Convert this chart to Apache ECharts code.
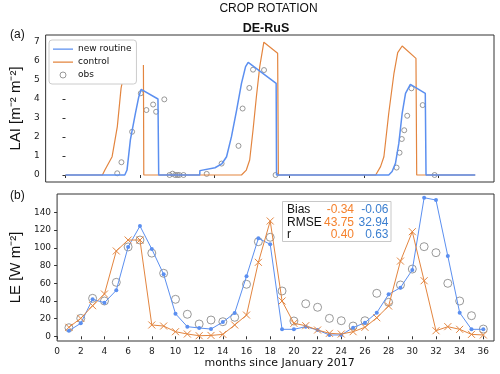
<!DOCTYPE html>
<html>
<head>
<meta charset="utf-8">
<script src="https://cdn.jsdelivr.net/npm/echarts@6/dist/echarts.min.js"></script>
<style>
  html, body { margin: 0; padding: 0; background: #fff; }
  #main { width: 500px; height: 374px; }
</style>
</head>
<body>
<div id="main"></div>
<script>
// (a) LAI, days since start of run
var laiControlDay = [0, 99, 105.6, 125, 139, 149, 152, 180, 209, 210, 472, 485, 494, 503, 512, 521, 532, 569, 571, 832, 845, 854, 867, 881, 891, 903, 940, 942, 1099]
var laiControl = [0, 0, 0.26, 0.96, 2.54, 4.55, 4.85, '-', 5.77, 0, 0, 0.26, 0.79, 2.36, 4.11, 5.69, 6.97, 6.39, 0, 0, 0.44, 0.96, 3.24, 5.34, 6.42, 6.77, 6.12, 0, 0]
var laiNewDay = [0, 159, 165, 174, 187.5, 196.5, 203, 248, 250, 360, 360.5, 401, 419, 432, 445, 459, 472, 483, 490, 565, 566, 867, 876, 885, 894, 903, 912, 925, 965, 967, 1099]
var laiNew = [0, 0, 0.26, 1.84, 3.24, 4.1, 4.5, 3.99, 0, 0, 0.23, 0.38, 0.58, 0.96, 2.0, 3.41, 4.81, 5.69, 5.91, 4.81, 0, 0, 0.18, 0.61, 1.66, 3.24, 4.29, 4.76, 4.29, 0, 0]
var laiObsDay = [138.7, 150, 178.7, 202, 217, 235, 243, 265, 279, 287, 294, 300, 305, 316.5, 378.7, 418.7, 464, 475, 493, 503, 532.5, 563.5, 888, 896, 902, 908.5, 916.5, 928, 958, 990]
var laiObs = [0.09, 0.67, 2.27, 4.29, 3.41, 3.7, 3.32, 3.97, 0, 0.07, 0, 0, 0, 0, 0.06, 0.6, 1.53, 3.49, 4.57, 5.53, 5.51, 0, 0.39, 1.17, 1.89, 2.35, 3.11, 4.55, 3.67, 0]
var laiTicks = [0, 1, 2, 3, 4, 5, 6, 7]
var dayTicks = [0, 200, 400, 600, 800, 1000]

// (b) LE, monthly
var months = [1, 2, 3, 4, 5, 6, 7, 8, 9, 10, 11, 12, 13, 14, 15, 16, 17, 18, 19, 20, 21, 22, 23, 24, 25, 26, 27, 28, 29, 30, 31, 32, 33, 34, 35, 36]
var leNew = [6.3, 14.7, 41.8, 38, 52, 101, 124.6, 98.6, 70, 25.5, 10.9, 9.4, 8.2, 16.1, 26.3, 68, 110.7, 104, 7.9, 7.9, 10.9, 7.1, 1.5, 1.5, 9.8, 15.4, 26.7, 47.4, 55, 75, 156.6, 154, 90.7, 26.7, 7.9, 7.9]
var leControl = [10.2, 20.3, 34.6, 47.8, 96.4, 108.8, 108.8, 12.8, 11.6, 5.2, 2.6, 0.7, 1, 2.2, 12.8, 24, 83.6, 130.3, 39.9, 14.7, 12, 7.1, 3.4, 2.6, 5.2, 10.2, 21, 34.2, 85, 118.2, 62.8, 6.3, 10.9, 7.9, 2.2, 1.5]
var leObs = [9.7, 20.3, 42.9, 39.9, 61, 101, 108.8, 94, 71.2, 41.8, 24.9, 13.9, 18.4, 16.5, 21.5, 58.8, 106.9, 111.9, 51.2, 17.3, 36.8, 32.8, 20.3, 17.6, 11.6, 17.6, 48.6, 38.4, 58, 76, 101.3, 94.5, 59.9, 39.9, 23.3, 8.2]
var leTicks = [0, 20, 40, 60, 80, 100, 120, 140]
var monthTicks = [0, 2, 4, 6, 8, 10, 12, 14, 16, 18, 20, 22, 24, 26, 28, 30, 32, 34, 36]

// statistics box
var statNames = ['Bias', 'RMSE', 'r']
var statControl = ['-0.34', '43.75', '0.40']
var statNew = ['-0.06', '32.94', '0.63']

var BLUE = '#5b8ff0'
var ORANGE = '#e3853f'
var GREY = '#808080'
var TICK_FONT = 'DejaVu Sans'
var ARIAL = 'Liberation Sans'
// thin horizontal bar inside a 20x6 box, used as legend line icon
var LINE_ICON = 'path://M0,0h0.01v0.01h-0.01zM0,2.4h20v1.3h-20zM19.99,6h0.01v-0.01h-0.01z'

function zip(xs, ys) {
  return xs.map(function (x, i) { return [x, ys[i]] })
}

var myChart = echarts.init(document.getElementById('main'), null, { renderer: 'canvas' })

var axisCommon = {
  axisLine: { show: false },
  splitLine: { show: false },
  axisTick: { length: 3, lineStyle: { color: '#333' } },
  axisLabel: { fontFamily: TICK_FONT, fontSize: 9, color: '#222' }
}

function makeAxis(extra, ticks) {
  var a = echarts.util.merge({}, axisCommon, true)
  a.axisTick.customValues = ticks
  a.axisLabel.customValues = ticks
  return echarts.util.merge(a, extra, true)
}

// stats box graphics
var statGraphics = [{
  type: 'rect',
  shape: { x: 282.5, y: 201.5, width: 108.5, height: 40 },
  style: { fill: '#fff', stroke: '#c8c8c8', lineWidth: 1 },
  z: 10
}]
statNames.forEach(function (name, i) {
  var y = 210 + i * 12.5
  statGraphics.push({ type: 'text', x: 287, y: y, z: 11,
    style: { text: name, fill: '#111', font: '12px ' + ARIAL, textAlign: 'left', textVerticalAlign: 'middle' } })
  statGraphics.push({ type: 'text', x: 354, y: y, z: 11,
    style: { text: statControl[i], fill: '#f5822e', font: '12px ' + ARIAL, textAlign: 'right', textVerticalAlign: 'middle' } })
  statGraphics.push({ type: 'text', x: 388.5, y: y, z: 11,
    style: { text: statNew[i], fill: '#3b7fd0', font: '12px ' + ARIAL, textAlign: 'right', textVerticalAlign: 'middle' } })
})

var option = {
  animation: false,
  backgroundColor: '#fff',
  grid: [
    { left: 43, width: 451, top: 35, height: 147, show: true, borderColor: '#333', borderWidth: 1, backgroundColor: 'transparent' },
    { left: 43, width: 451, top: 194, height: 147, show: true, borderColor: '#333', borderWidth: 1, backgroundColor: 'transparent' }
  ],
  xAxis: [
    makeAxis({ gridIndex: 0, type: 'value', min: -53.3, max: 1149.3, axisLabel: { show: false } }, dayTicks),
    makeAxis({
      gridIndex: 1, type: 'value', min: 0, max: 36.9,
      axisLabel: { margin: 6 },
      name: 'months since January 2017', nameLocation: 'middle', nameGap: 17,
      nameTextStyle: { fontFamily: TICK_FONT, fontSize: 11, color: '#111', padding: [0, 0, 0, 8] }
    }, monthTicks)
  ],
  yAxis: [
    makeAxis({
      gridIndex: 0, type: 'value', min: -0.367, max: 7.349,
      axisLabel: { margin: 6 },
      name: 'LAI [m\u207B\u00B2 m\u207B\u00B2]', nameLocation: 'middle', nameGap: 19,
      nameTextStyle: { fontFamily: ARIAL, fontSize: 15, color: '#111' }
    }, laiTicks),
    makeAxis({
      gridIndex: 1, type: 'value', min: -5.3, max: 160.8,
      axisLabel: { margin: 6 },
      name: 'LE [W m\u207B\u00B2]', nameLocation: 'middle', nameGap: 27,
      nameTextStyle: { fontFamily: ARIAL, fontSize: 15, color: '#111' }
    }, leTicks)
  ],
  legend: {
    left: 49, top: 40, orient: 'vertical',
    backgroundColor: '#fff', borderColor: '#cccccc', borderWidth: 1, borderRadius: 3,
    padding: [4, 5, 4, 4], itemGap: 3, itemWidth: 20, itemHeight: 6,
    selectedMode: false,
    textStyle: { fontFamily: TICK_FONT, fontSize: 9, color: '#111', lineHeight: 10 },
    data: [
      { name: 'new routine', icon: LINE_ICON, itemStyle: { color: BLUE, borderWidth: 0 } },
      { name: 'control', icon: LINE_ICON, itemStyle: { color: ORANGE, borderWidth: 0 } },
      { name: 'obs', icon: 'circle', itemStyle: { color: 'rgba(0,0,0,0)', borderColor: GREY, borderWidth: 1 } }
    ]
  },
  graphic: [
    { type: 'text', x: 268.5, y: 9, style: { text: 'CROP ROTATION', fill: '#111', font: '12px ' + ARIAL, textAlign: 'center', textVerticalAlign: 'middle' } },
    { type: 'text', x: 266, y: 28.5, style: { text: 'DE-RuS', fill: '#111', font: 'bold 12.5px ' + ARIAL, textAlign: 'center', textVerticalAlign: 'middle' } },
    { type: 'text', x: 10, y: 35, style: { text: '(a)', fill: '#111', font: '12px ' + ARIAL, textAlign: 'left', textVerticalAlign: 'middle' } },
    { type: 'text', x: 10, y: 196, style: { text: '(b)', fill: '#111', font: '12px ' + ARIAL, textAlign: 'left', textVerticalAlign: 'middle' } }
  ].concat(statGraphics),
  series: [
    {
      name: 'control', type: 'line', xAxisIndex: 0, yAxisIndex: 0,
      data: zip(laiControlDay, laiControl), symbol: 'none', connectNulls: false,
      color: ORANGE, lineStyle: { width: 1.2, color: ORANGE }
    },
    {
      name: 'new routine', type: 'line', xAxisIndex: 0, yAxisIndex: 0,
      data: zip(laiNewDay, laiNew), symbol: 'none',
      color: BLUE, lineStyle: { width: 1.5, color: BLUE }
    },
    {
      name: 'obs', type: 'scatter', xAxisIndex: 0, yAxisIndex: 0,
      data: zip(laiObsDay, laiObs), symbol: 'circle', symbolSize: 5,
      itemStyle: { color: 'rgba(0,0,0,0)', borderColor: GREY, borderWidth: 1 }
    },
    {
      name: 'LE new routine', type: 'line', xAxisIndex: 1, yAxisIndex: 1,
      data: zip(months, leNew), symbol: 'circle', symbolSize: 4, showAllSymbol: true,
      color: BLUE, lineStyle: { width: 1, color: BLUE }, itemStyle: { color: BLUE }
    },
    {
      name: 'LE control', type: 'line', xAxisIndex: 1, yAxisIndex: 1,
      data: zip(months, leControl), symbol: 'path://M0,0L10,10M10,0L0,10', symbolSize: 7, showAllSymbol: true,
      color: ORANGE, lineStyle: { width: 1, color: ORANGE },
      itemStyle: { color: 'none', borderColor: ORANGE, borderWidth: 1 }
    },
    {
      name: 'LE obs', type: 'scatter', xAxisIndex: 1, yAxisIndex: 1,
      data: zip(months, leObs), symbol: 'circle', symbolSize: 8,
      itemStyle: { color: 'rgba(0,0,0,0)', borderColor: GREY, borderWidth: 1 }
    }
  ]
}

myChart.setOption(option)
</script>
</body>
</html>
